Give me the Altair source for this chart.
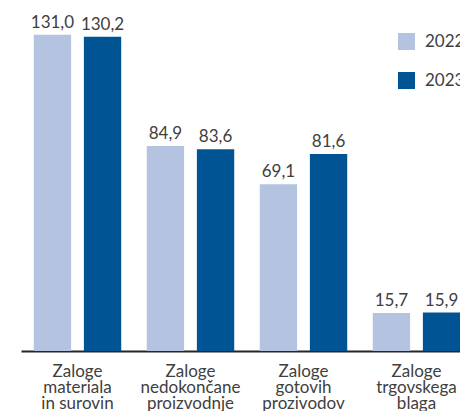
import altair as alt
import pandas as pd

categories = [
    ["Zaloge", "materiala", "in surovin"],
    ["Zaloge", "nedokončane", "proizvodnje"],
    ["Zaloge", "gotovih", "prozivodov"],
    ["Zaloge", "trgovskega", "blaga"],
]
years = ["2022", "2023"]
values_2022 = [131.0, 84.9, 69.1, 15.7]
values_2023 = [130.2, 83.6, 81.6, 15.9]
colors = ["#b4c4e0", "#005493"]

cat_names = ["\n".join(c) for c in categories]
rows = []
for i, name in enumerate(cat_names):
    for y, vals in zip(years, [values_2022, values_2023]):
        v = vals[i]
        rows.append({"cat": name, "year": y, "value": v,
                     "label": f"{v:.1f}".replace(".", ",")})
df = pd.DataFrame(rows)

FONT = "Lato"
TXT = "#404040"

base = alt.Chart(df).encode(
    x=alt.X("cat:N", sort=cat_names, title=None,
            scale=alt.Scale(paddingInner=0, paddingOuter=0, range=[0, 452]),
            axis=alt.Axis(labelExpr="split(datum.label, '\\n')", labelAngle=0,
                          ticks=False, tickSize=0, domainColor="#262626", domainWidth=2,
                          labelFont=FONT, labelFontSize=17, labelColor=TXT,
                          labelLineHeight=16, labelPadding=12, labelBaseline="top")),
    xOffset=alt.XOffset("year:N", sort=years,
                        scale=alt.Scale(paddingInner=0.255, paddingOuter=0.255)),
    y=alt.Y("value:Q", scale=alt.Scale(domain=[0, 140]), axis=None),
)

bars = base.mark_bar().encode(
    color=alt.Color("year:N", sort=years,
                    scale=alt.Scale(domain=years, range=colors),
                    legend=alt.Legend(title=None, orient="none", legendX=377, legendY=20,
                                      symbolType="square", symbolSize=289,
                                      symbolStrokeWidth=0, labelFont=FONT,
                                      labelFontSize=17, labelColor=TXT,
                                      labelOffset=10, rowPadding=21, padding=0))
)

text = base.mark_text(dy=-7, baseline="alphabetic", font=FONT, fontSize=17,
                      color=TXT).encode(text="label:N")

chart = (bars + text).properties(
    width=439, height=338,
    padding={"left": 13, "top": 5, "right": 0, "bottom": 60},
    autosize=alt.AutoSizeParams(type="none"),
).configure_view(stroke=None)

chart.save("out.html", embed_options={"renderer": "svg", "actions": False})
